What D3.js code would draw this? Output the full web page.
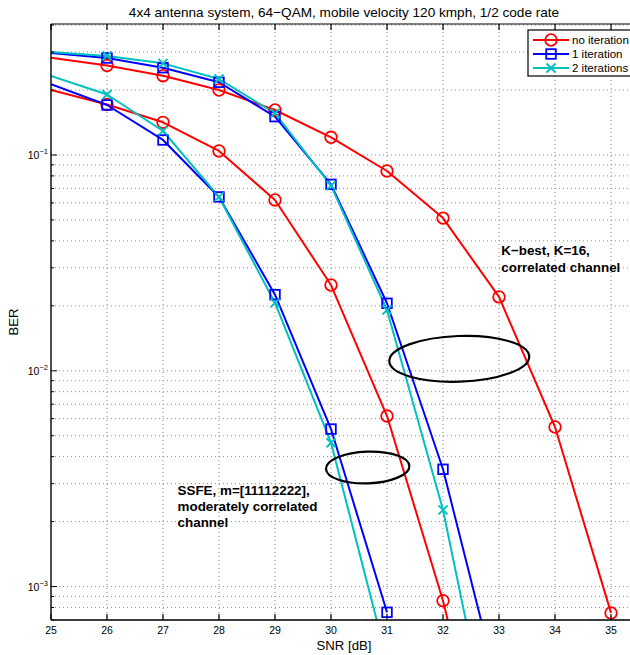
<!DOCTYPE html>
<html><head><meta charset="utf-8">
<script src="https://cdn.jsdelivr.net/npm/d3@7"></script>
<style>
html,body{margin:0;padding:0;background:#fff;}
svg{display:block;font-family:"Liberation Sans",Arial,Helvetica,sans-serif;}
</style></head>
<body>
<svg id="chart" width="630" height="655"></svg>
<script>
// ---------- data ----------
const titleText = "4x4 antenna system, 64\u2212QAM, mobile velocity 120 kmph, 1/2 code rate";
const xLabel = "SNR [dB]";
const yLabel = "BER";
const xTicks = [25,26,27,28,29,30,31,32,33,34,35];
const yMajorTicks = [1e-3, 1e-2, 1e-1];
const yTickLabels = ["10", "10", "10"];
const yTickExps = ["\u22123", "\u22122", "\u22121"];
const legendLabels = ["no iteration", "1 iteration", "2 iterations"];
const seriesColors = ["#ff0000", "#0000ff", "#00c0c0"];
const seriesMarkers = ["circle", "square", "x"];

// K-best, K=16, correlated channel
const kbestSnr0 = [25,26,27,28,29,30,31,32,33,34,35];
const kbestNoIter = [0.2824,0.2599,0.2331,0.2001,0.1616,0.1208,0.0843,0.0510,0.0220,0.00549,0.000755];
const kbestSnr1 = [25,26,27,28,29,30,31,32,33];
const kbestIter1 = [0.2971,0.2815,0.2538,0.2173,0.1505,0.0731,0.02055,0.003496,0.000327];
const kbestSnr2 = [25,26,27,28,29,30,31,32,33];
const kbestIter2 = [0.3002,0.2876,0.2659,0.2250,0.1561,0.0721,0.01913,0.002265,0.000126];
// SSFE, m=[11112222], moderately correlated channel
const ssfeSnr0 = [25,26,27,28,29,30,31,32,33];
const ssfeNoIter = [0.2001,0.1714,0.1417,0.1044,0.0619,0.02497,0.00617,0.00086,0.000074];
const ssfeSnr1 = [25,26,27,28,29,30,31];
const ssfeIter1 = [0.2127,0.1705,0.1174,0.0639,0.02253,0.00537,0.00076];
const ssfeSnr2 = [25,26,27,28,29,30,31];
const ssfeIter2 = [0.2323,0.1907,0.1292,0.0639,0.02062,0.00464,0.000457];

// annotations (data coordinates)
const kbestNote = ["K\u2212best, K=16,", "correlated channel"];
const kbestNotePos = [33.04, 0.0343];
const ssfeNote = ["SSFE, m=[11112222],", "moderately correlated", "channel"];
const ssfeNotePos = [27.26, 0.00266];
const ellipseA = {cx: 32.29, cy: 0.01137, dx: 1.25, yTop: 0.0145, yBot: 0.0089};
const ellipseB = {cx: 30.655, cy: 0.00355, dx: 0.745, yTop: 0.00422, yBot: 0.00301};

// ---------- layout ----------
const svg = d3.select("#chart");
const L = 51, R = 637, T = 24, B = 620;
const x = d3.scaleLinear().domain([25, 35.464]).range([L, R]);
const y = d3.scaleLog().domain([7.0e-4, 0.4046]).range([B, T]);

svg.append("defs").append("clipPath").attr("id","plotclip")
  .append("rect").attr("x",L).attr("y",T).attr("width",R-L).attr("height",B-T);

// grid
const grid = svg.append("g").attr("stroke","#8c8c8c").attr("stroke-width",1)
  .attr("stroke-dasharray","1,3");
xTicks.filter(v => v > 25).forEach(v => {
  grid.append("line").attr("x1",x(v)).attr("x2",x(v)).attr("y1",T).attr("y2",B);
});
const minorVals = [];
[1e-4,1e-3,1e-2,1e-1].forEach(d => { for (let k=1;k<10;k++){ const v=k*d; if (v>=y.domain()[0] && v<=y.domain()[1]) minorVals.push(v);} });
minorVals.forEach(v => {
  grid.append("line").attr("x1",L).attr("x2",R).attr("y1",y(v)).attr("y2",y(v));
});

// series
const series = [
  {xs:kbestSnr0, ys:kbestNoIter, c:0},
  {xs:kbestSnr1, ys:kbestIter1, c:1},
  {xs:kbestSnr2, ys:kbestIter2, c:2},
  {xs:ssfeSnr0, ys:ssfeNoIter, c:0},
  {xs:ssfeSnr1, ys:ssfeIter1, c:1},
  {xs:ssfeSnr2, ys:ssfeIter2, c:2}
];
const line = d3.line().x(d => x(d[0])).y(d => y(d[1]));
const plot = svg.append("g").attr("clip-path","url(#plotclip)");

function drawMarker(g, type, cx, cy, color){
  if (type === "circle") {
    g.append("circle").attr("cx",cx).attr("cy",cy).attr("r",5.8)
      .attr("fill","none").attr("stroke",color).attr("stroke-width",1.8);
  } else if (type === "square") {
    g.append("rect").attr("x",cx-4.8).attr("y",cy-4.8).attr("width",9.6).attr("height",9.6)
      .attr("fill","none").attr("stroke",color).attr("stroke-width",1.8);
  } else {
    const s = 4.5;
    g.append("path").attr("d",`M${cx-s},${cy-s}L${cx+s},${cy+s}M${cx-s},${cy+s}L${cx+s},${cy-s}`)
      .attr("fill","none").attr("stroke",color).attr("stroke-width",1.8);
  }
}

series.forEach(s => {
  const pts = s.xs.map((v,i) => [v, s.ys[i]]);
  plot.append("path").datum(pts).attr("d", line)
    .attr("fill","none").attr("stroke", seriesColors[s.c]).attr("stroke-width",2)
    .attr("stroke-linejoin","round");
});
const markG = svg.append("g");
series.forEach(s => {
  s.xs.forEach((v,i) => {
    const val = s.ys[i];
    // markers only for points lying inside the axes (first point sits on the left limit)
    if (v > x.domain()[0] && val >= y.domain()[0]) {
      drawMarker(markG, seriesMarkers[s.c], x(v), y(val), seriesColors[s.c]);
    }
  });
});

// frame & ticks
const ax = svg.append("g").attr("stroke","#000");
ax.append("line").attr("x1",L).attr("x2",R).attr("y1",B).attr("y2",B).attr("stroke-width",1.6);
ax.append("line").attr("x1",L).attr("x2",L).attr("y1",T).attr("y2",B).attr("stroke-width",1.4);
ax.append("line").attr("x1",L).attr("x2",R).attr("y1",T).attr("y2",T).attr("stroke-width",1.2);
ax.append("line").attr("x1",R).attr("x2",R).attr("y1",T).attr("y2",B).attr("stroke-width",1.2);
xTicks.forEach(v => {
  ax.append("line").attr("x1",x(v)).attr("x2",x(v)).attr("y1",B).attr("y2",B-6).attr("stroke-width",1.2);
  ax.append("line").attr("x1",x(v)).attr("x2",x(v)).attr("y1",T).attr("y2",T+6).attr("stroke-width",1.2);
});
minorVals.forEach(v => {
  const major = yMajorTicks.some(m => Math.abs(m - v)/m < 1e-9);
  ax.append("line").attr("x1",L).attr("x2",L+(major?6:3)).attr("y1",y(v)).attr("y2",y(v)).attr("stroke-width",1);
});

// tick labels
const tl = svg.append("g").attr("fill","#000").attr("font-size","10.5px");
xTicks.forEach(v => {
  tl.append("text").attr("x",x(v)).attr("y",B+14).attr("text-anchor","middle").text(v);
});
yMajorTicks.forEach((v,i) => {
  const t = tl.append("text").attr("x",L-3).attr("y",y(v)+4).attr("text-anchor","end");
  t.append("tspan").text(yTickLabels[i]);
  t.append("tspan").attr("dy",-5).attr("font-size","7.5px").text(yTickExps[i]);
});

// axis labels & title
svg.append("text").attr("x",(L+R)/2).attr("y",650).attr("text-anchor","middle")
  .attr("font-size","13.2px").text(xLabel);
svg.append("text").attr("transform",`translate(18,${(T+B)/2}) rotate(-90)`).attr("text-anchor","middle")
  .attr("font-size","13.2px").text(yLabel);
svg.append("text").attr("x",(L+R)/2).attr("y",17).attr("text-anchor","middle")
  .attr("font-size","13.6px").text(titleText);

// annotations
function ellipse(e){
  const cy = (y(e.yTop)+y(e.yBot))/2, ry = (y(e.yBot)-y(e.yTop))/2;
  const cx = x(e.cx), rx = x(e.cx+e.dx)-x(e.cx);
  svg.append("ellipse").attr("cx",cx).attr("cy",cy).attr("rx",rx).attr("ry",ry)
    .attr("transform",`rotate(-2,${cx},${cy})`)
    .attr("fill","none").attr("stroke","#000").attr("stroke-width",2.2);
}
ellipse(ellipseA);
ellipse(ellipseB);
function note(lines, pos){
  const t = svg.append("text").attr("font-size","13.4px").attr("font-weight","bold").attr("fill","#000");
  lines.forEach((s,i) => {
    t.append("tspan").attr("x",x(pos[0])).attr("y",y(pos[1]) + i*16.3).text(s);
  });
}
note(kbestNote, kbestNotePos);
note(ssfeNote, ssfeNotePos);

// legend
const lg = svg.append("g");
lg.append("rect").attr("x",528).attr("y",30).attr("width",108).attr("height",46)
  .attr("fill","#fff").attr("stroke","#000").attr("stroke-width",1.2);
legendLabels.forEach((lab,i) => {
  const yy = 40 + i*14;
  lg.append("line").attr("x1",533).attr("x2",569).attr("y1",yy).attr("y2",yy)
    .attr("stroke",seriesColors[i]).attr("stroke-width",2);
  drawMarker(lg, seriesMarkers[i], 551, yy, seriesColors[i]);
  lg.append("text").attr("x",572).attr("y",yy+4).attr("font-size","11.5px").text(lab);
});
</script>
</body></html>
